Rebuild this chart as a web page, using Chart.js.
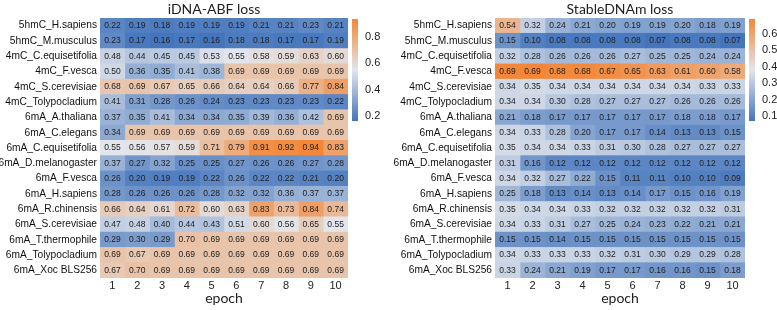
<!DOCTYPE html>
<html>
<head>
<meta charset="utf-8">
<title>loss heatmaps</title>
<script src="https://cdn.jsdelivr.net/npm/chart.js@4.4.1/dist/chart.umd.min.js"></script>
<style>
  body { margin:0; background:#fff; }
  #wrap { position:relative; width:777px; height:310px; overflow:hidden; }
  .box { position:absolute; top:0; height:310px; }
</style>
</head>
<body>
<div id="wrap">
  <div class="box" style="left:0;width:392px"><canvas id="chart1"></canvas></div>
  <div class="box" style="left:376px;width:401px"><canvas id="chart2"></canvas></div>
</div>
<script>
var rowNames = ['5hmC_H.sapiens','5hmC_M.musculus','4mC_C.equisetifolia','4mC_F.vesca','4mC_S.cerevisiae',
  '4mC_Tolypocladium','6mA_A.thaliana','6mA_C.elegans','6mA_C.equisetifolia','6mA_D.melanogaster',
  '6mA_F.vesca','6mA_H.sapiens','6mA_R.chinensis','6mA_S.cerevisiae','6mA_T.thermophile',
  '6mA_Tolypocladium','6mA_Xoc BLS256'];
var epochs = ['1','2','3','4','5','6','7','8','9','10'];

// iDNA-ABF loss, one row per dataset, one column per epoch
var abfLoss = [
  [0.22,0.19,0.18,0.19,0.19,0.19,0.21,0.21,0.23,0.21],
  [0.23,0.17,0.16,0.17,0.16,0.18,0.18,0.17,0.17,0.19],
  [0.48,0.44,0.45,0.45,0.53,0.55,0.58,0.59,0.63,0.60],
  [0.50,0.36,0.35,0.41,0.38,0.69,0.69,0.69,0.69,0.69],
  [0.68,0.69,0.67,0.65,0.66,0.64,0.64,0.66,0.77,0.84],
  [0.41,0.31,0.28,0.26,0.24,0.23,0.23,0.23,0.23,0.22],
  [0.37,0.35,0.41,0.34,0.34,0.35,0.39,0.36,0.42,0.69],
  [0.34,0.69,0.69,0.69,0.69,0.69,0.69,0.69,0.69,0.69],
  [0.55,0.56,0.57,0.59,0.71,0.79,0.91,0.92,0.94,0.83],
  [0.37,0.27,0.32,0.25,0.25,0.27,0.26,0.26,0.27,0.28],
  [0.26,0.20,0.19,0.19,0.22,0.26,0.22,0.22,0.21,0.20],
  [0.28,0.26,0.26,0.26,0.28,0.32,0.32,0.36,0.37,0.37],
  [0.66,0.64,0.61,0.72,0.60,0.63,0.83,0.73,0.84,0.74],
  [0.47,0.48,0.40,0.44,0.43,0.51,0.60,0.56,0.65,0.55],
  [0.29,0.30,0.29,0.70,0.69,0.69,0.69,0.69,0.69,0.69],
  [0.69,0.67,0.69,0.69,0.69,0.69,0.69,0.69,0.69,0.69],
  [0.67,0.70,0.69,0.69,0.69,0.69,0.69,0.69,0.69,0.69]
];

// StableDNAm loss
var stableLoss = [
  [0.54,0.32,0.24,0.21,0.20,0.19,0.19,0.20,0.18,0.19],
  [0.15,0.10,0.08,0.08,0.08,0.08,0.07,0.08,0.08,0.07],
  [0.32,0.28,0.26,0.26,0.26,0.27,0.25,0.25,0.24,0.24],
  [0.69,0.69,0.68,0.68,0.67,0.65,0.63,0.61,0.60,0.58],
  [0.34,0.35,0.34,0.34,0.34,0.34,0.34,0.34,0.33,0.33],
  [0.34,0.34,0.30,0.28,0.27,0.27,0.27,0.26,0.26,0.26],
  [0.21,0.18,0.17,0.17,0.17,0.17,0.17,0.18,0.18,0.17],
  [0.34,0.33,0.28,0.20,0.17,0.17,0.14,0.13,0.13,0.15],
  [0.35,0.34,0.34,0.33,0.31,0.30,0.28,0.27,0.27,0.27],
  [0.31,0.16,0.12,0.12,0.12,0.12,0.12,0.12,0.12,0.12],
  [0.34,0.32,0.27,0.22,0.15,0.11,0.11,0.10,0.10,0.09],
  [0.25,0.18,0.13,0.14,0.13,0.14,0.17,0.15,0.16,0.19],
  [0.35,0.34,0.34,0.33,0.32,0.32,0.32,0.32,0.32,0.31],
  [0.34,0.33,0.31,0.27,0.25,0.24,0.23,0.22,0.21,0.21],
  [0.15,0.15,0.14,0.15,0.15,0.15,0.15,0.15,0.15,0.15],
  [0.34,0.33,0.33,0.33,0.32,0.31,0.30,0.29,0.29,0.28],
  [0.33,0.24,0.21,0.19,0.17,0.17,0.16,0.16,0.15,0.18]
];

var abfTicks = [0.2,0.4,0.6,0.8];
var stableTicks = [0.1,0.2,0.3,0.4,0.5,0.6];

var cLow=[68,117,188], cMid=[226,230,236], cHigh=[243,135,55];
function heatColor(v, lo, hi){
  var t=(v-lo)/(hi-lo), a, b, u;
  if(t<0.5){a=cLow;b=cMid;u=t/0.5;} else {a=cMid;b=cHigh;u=(t-0.5)/0.5;}
  var c=[0,1,2].map(function(k){return Math.round(a[k]+(b[k]-a[k])*u);});
  return 'rgb('+c.join(',')+')';
}

var cellText = {
  id:'cellText',
  afterDatasetsDraw:function(chart){
    var ctx=chart.ctx, m=chart.options.plugins.cellText.matrix;
    ctx.save();
    ctx.font='8.5px "Liberation Sans", Arial, sans-serif';
    ctx.fillStyle='#222';
    ctx.textAlign='center'; ctx.textBaseline='middle';
    chart.data.datasets.forEach(function(ds,c){
      chart.getDatasetMeta(c).data.forEach(function(el,r){
        ctx.fillText(m[r][c].toFixed(2),(el.x+el.base)/2,el.y);
      });
    });
    ctx.restore();
  }
};

var colorBar = {
  id:'colorBar',
  afterDraw:function(chart){
    var o=chart.options.plugins.colorBar, a=chart.chartArea, ctx=chart.ctx;
    var x0=a.right+4, w=6, y0=a.top+1, h=102;
    ctx.save();
    var g=ctx.createLinearGradient(0,y0+h,0,y0);
    for(var i=0;i<=20;i++){ g.addColorStop(i/20, heatColor(o.lo+(o.hi-o.lo)*i/20,o.lo,o.hi)); }
    ctx.fillStyle=g; ctx.fillRect(x0,y0,w,h);
    ctx.font='11px "Liberation Sans", Arial, sans-serif';
    ctx.fillStyle='#222'; ctx.textAlign='left'; ctx.textBaseline='middle';
    o.ticks.forEach(function(v){
      ctx.fillText(v.toFixed(1), x0+w+7, y0+(o.hi-v)/(o.hi-o.lo)*h);
    });
    // title
    ctx.font='14px Lato, "Open Sans", sans-serif';
    ctx.textAlign='center';
    ctx.fillText(o.title,(a.left+a.right)/2+o.titleShift,9);
    ctx.restore();
  }
};

function makeHeat(id, matrix, ticks, title, titleShift, padRight, yWidth){
  var flat=[].concat.apply([],matrix);
  var lo=Math.min.apply(null,flat), hi=Math.max.apply(null,flat);
  var datasets=epochs.map(function(e,c){
    return {
      label:e,
      data:rowNames.map(function(){return [c,c+1];}),
      backgroundColor:matrix.map(function(row){return heatColor(row[c],lo,hi);}),
      borderWidth:0,
      barPercentage:1, categoryPercentage:1
    };
  });
  return new Chart(document.getElementById(id),{
    type:'bar',
    data:{labels:rowNames, datasets:datasets},
    plugins:[cellText,colorBar],
    options:{
      indexAxis:'y',
      responsive:true, maintainAspectRatio:false, animation:false,
      layout:{padding:{top:18,right:padRight,left:0,bottom:0}},
      plugins:{
        legend:{display:false}, tooltip:{enabled:false},
        cellText:{matrix:matrix},
        colorBar:{lo:lo,hi:hi,ticks:ticks,title:title,titleShift:titleShift}
      },
      scales:{
        y:{
          stacked:true,
          grid:{display:false,drawTicks:false}, border:{display:false},
          ticks:{font:{family:'"Liberation Sans", Arial, sans-serif',size:10.2},color:'#111',padding:3,autoSkip:false},
          afterFit:function(s){s.width=yWidth;}
        },
        x:{
          type:'linear', min:0, max:10,
          grid:{display:false,drawTicks:false}, border:{display:false},
          afterBuildTicks:function(s){s.ticks=epochs.map(function(e,i){return {value:i+0.5};});},
          ticks:{font:{family:'"Liberation Sans", Arial, sans-serif',size:11},color:'#222',padding:1,
            callback:function(v){return String(Math.round(v+0.5));}},
          title:{display:true,text:'epoch',font:{family:'Lato, "Open Sans", sans-serif',size:14},color:'#222',padding:{top:0,bottom:3}},
          afterFit:function(s){s.height=32;}
        }
      }
    }
  });
}

makeHeat('chart1', abfLoss, abfTicks, 'iDNA-ABF loss', -10, 44, 100);
makeHeat('chart2', stableLoss, stableTicks, 'StableDNAm loss', 0, 32, 119);
</script>
</body>
</html>
